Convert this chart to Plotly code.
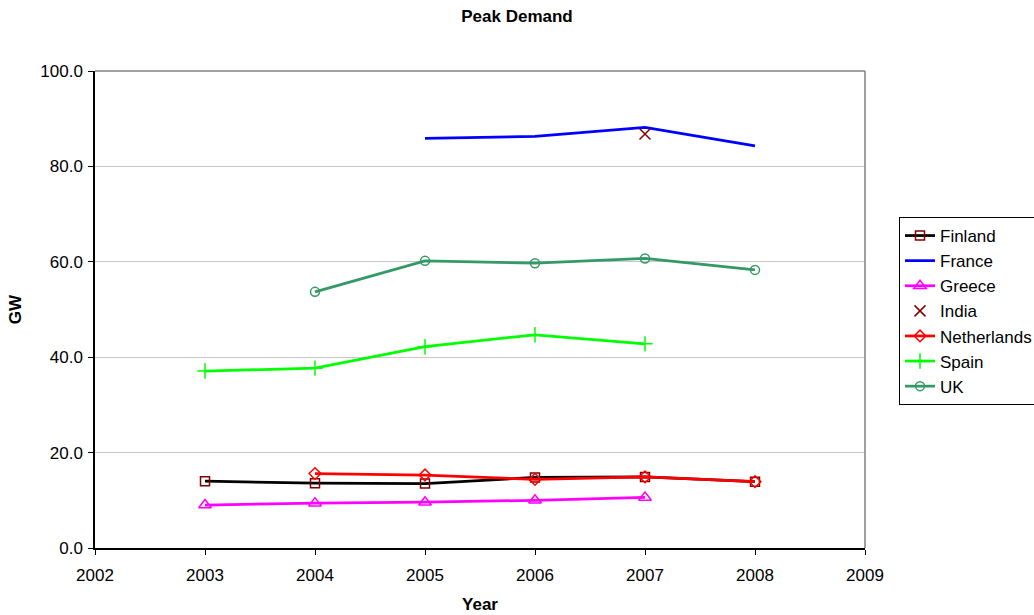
import plotly.graph_objects as go

# Peak electricity demand by country (GW)
years = [2003, 2004, 2005, 2006, 2007, 2008]

finland = [14.0, 13.6, 13.5, 14.8, 14.9, 13.9]
france = [None, None, 85.9, 86.3, 88.2, 84.3]
greece = [9.0, 9.4, 9.6, 10.0, 10.6, None]
india = [None, None, None, None, 86.8, None]
netherlands = [None, 15.6, 15.3, 14.4, 14.9, 13.9]
spain = [37.1, 37.7, 42.2, 44.7, 42.8, None]
uk = [None, 53.7, 60.2, 59.7, 60.7, 58.3]

x_ticks = [2002, 2003, 2004, 2005, 2006, 2007, 2008, 2009]
y_ticks = [0, 20, 40, 60, 80, 100]

FONT = "Arial, 'Liberation Sans', sans-serif"

fig = go.Figure()

series = [
    ("Finland", finland, "lines+markers", "#000000", dict(symbol="square-open", size=9, color="#800000", line=dict(width=1.5))),
    ("France", france, "lines", "#0000ff", None),
    ("Greece", greece, "lines+markers", "#ff00ff", dict(symbol="triangle-up-open", size=11, color="#ff00ff", line=dict(width=1.5))),
    ("India", india, "markers", "#800000", dict(symbol="x-thin-open", size=11, color="#800000", line=dict(width=1.5, color="#800000"))),
    ("Netherlands", netherlands, "lines+markers", "#ff0000", dict(symbol="diamond-open", size=9, color="#ff0000", line=dict(width=1.5))),
    ("Spain", spain, "lines+markers", "#00ff00", dict(symbol="cross-thin-open", size=11, color="#00ff00", line=dict(width=1.5, color="#00ff00"))),
    ("UK", uk, "lines+markers", "#339966", dict(symbol="circle-open", size=9, color="#339966", line=dict(width=1.5))),
]

for name, vals, mode, color, marker in series:
    kw = dict(x=years, y=vals, name=name, mode=mode, legendgroup=name,
              line=dict(color=color, width=2.75))
    if marker is not None:
        kw["marker"] = marker
    fig.add_trace(go.Scatter(**kw))

# Plot-area frame: grey top and right edges
fig.add_shape(type="line", xref="paper", yref="paper", x0=0, x1=1, y0=1, y1=1,
              line=dict(color="#808080", width=1.5))
fig.add_shape(type="line", xref="paper", yref="paper", x0=1, x1=1, y0=0, y1=1,
              line=dict(color="#808080", width=1.5))

fig.update_layout(
    width=1034, height=615,
    margin=dict(l=95, r=169, t=71, b=67, autoexpand=False),
    paper_bgcolor="white", plot_bgcolor="white",
    font=dict(family=FONT, size=17, color="#000000"),
    title=dict(text="<b>Peak Demand</b>", x=0.5, xref="container", xanchor="center",
               y=1 - 16 / 615, yanchor="middle", font=dict(size=17)),
    xaxis=dict(range=[2002, 2009], tickvals=x_ticks, ticktext=[str(v) for v in x_ticks],
               showgrid=False, zeroline=False, showline=True, linecolor="#000000",
               linewidth=1.5, ticks="outside", ticklen=5, tickcolor="#000000",
               ticklabelstandoff=6,
               title=dict(text="<b>Year</b>", font=dict(size=17), standoff=14)),
    yaxis=dict(range=[0, 100], tickvals=y_ticks, tickformat=".1f",
               showgrid=True, gridcolor="#c8c8c8", gridwidth=1, zeroline=False,
               showline=True, linecolor="#000000", linewidth=1.5,
               ticks="outside", ticklen=5, tickcolor="#000000",
               ticklabelstandoff=2,
               title=dict(text="<b>GW</b>", font=dict(size=17), standoff=14)),
    legend=dict(x=(899 - 95) / 770, xanchor="left", y=(548 - 217) / 477, yanchor="top",
                bordercolor="#000000", borderwidth=1, bgcolor="white",
                font=dict(size=17), tracegroupgap=0, itemwidth=30),
    showlegend=True,
)

fig.write_html("out.html")
